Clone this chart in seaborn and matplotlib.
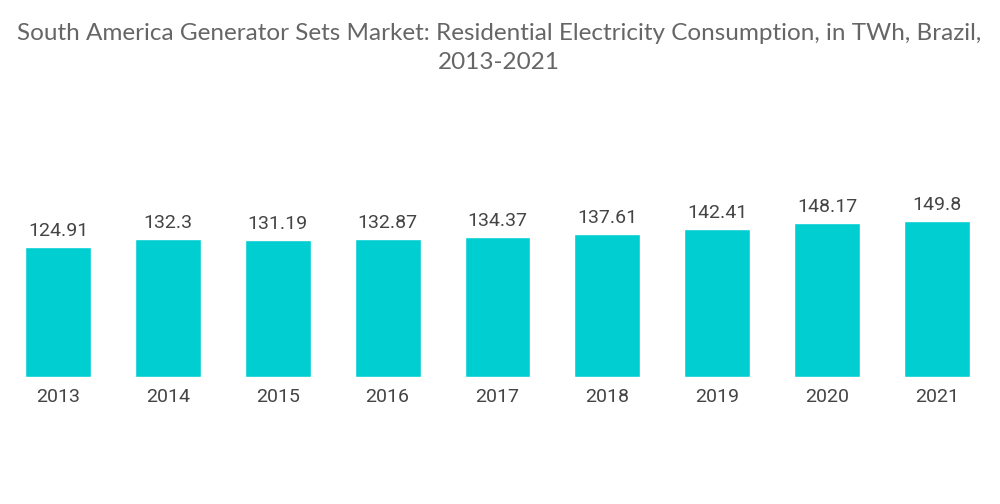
import matplotlib
matplotlib.use('Agg')
import matplotlib.pyplot as plt
import seaborn as sns
import pandas as pd

# DATA
years = ['2013', '2014', '2015', '2016', '2017', '2018', '2019', '2020', '2021']
consumption = [124.91, 132.3, 131.19, 132.87, 134.37, 137.61, 142.41, 148.17, 149.8]
value_labels = ['124.91', '132.3', '131.19', '132.87', '134.37', '137.61', '142.41', '148.17', '149.8']
title = ('South America Generator Sets Market: Residential Electricity Consumption, in TWh, Brazil,\n'
         '2013-2021')

df = pd.DataFrame({'year': years, 'twh': consumption})

sns.set_style('white')
plt.rcParams['font.family'] = ['Roboto', 'DejaVu Sans']

fig = plt.figure(figsize=(10, 5.04), dpi=100)
ax = fig.add_axes([0.003, 0.252, 0.989, 0.3306])

sns.barplot(data=df, x='year', y='twh', color='#00CED1', saturation=1, width=0.6, ax=ax)

# value labels above bars
for i, lab in enumerate(value_labels):
    ax.annotate(lab, (i, consumption[i]), xytext=(0, 5), textcoords='offset points',
                ha='center', va='bottom', fontsize=14, color='#444444')

ax.set_ylim(0, 160)
ax.set_xlim(-0.5, 8.5)
ax.set_xlabel('')
ax.set_ylabel('')
ax.set_yticks([])
ax.tick_params(axis='x', length=0, pad=8, labelsize=14, labelcolor='#444444')
sns.despine(ax=ax, left=True, bottom=True)

fig.text(0.499, 0.955, title, ha='center', va='top', fontsize=17.5, color='#666666',
         family=['Lato', 'DejaVu Sans'], linespacing=1.5)

fig.savefig('out.png', dpi=100)
